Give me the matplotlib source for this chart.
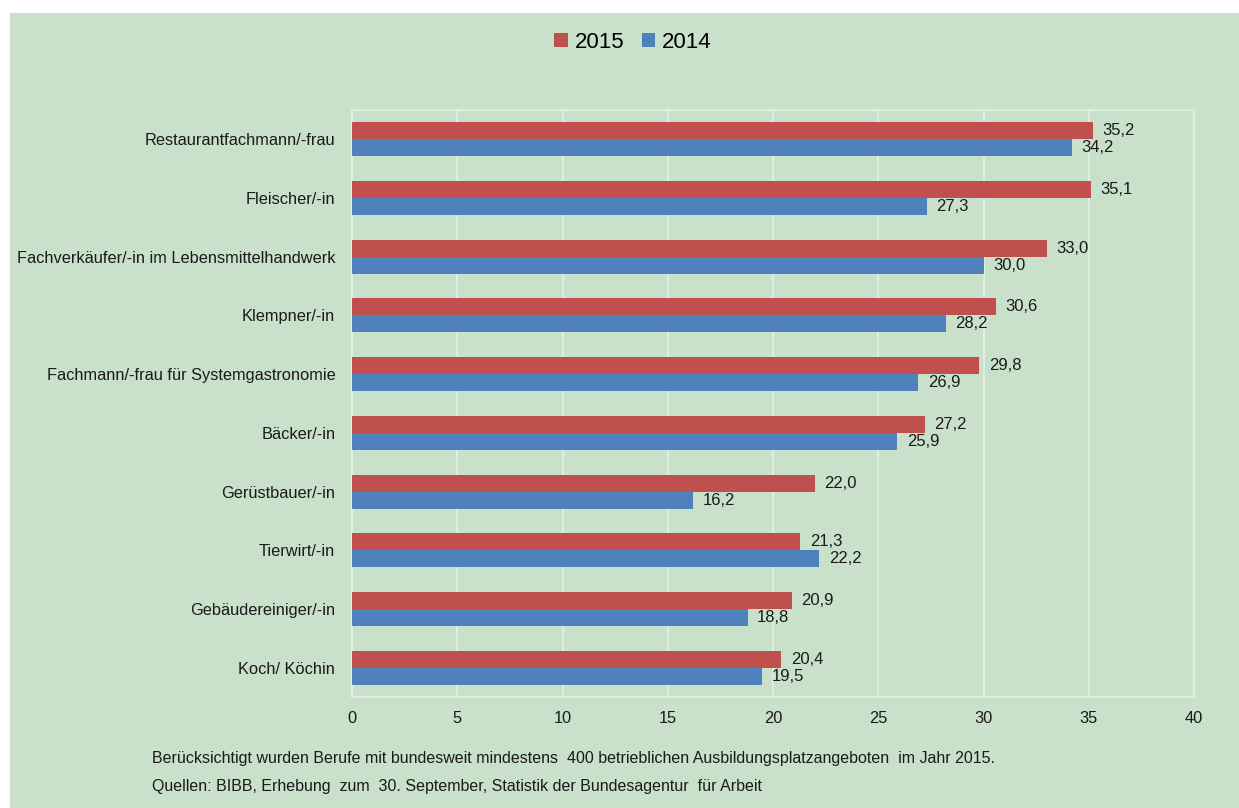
import numpy as np
import matplotlib.pyplot as plt
from matplotlib.patches import Rectangle

plt.rcParams['font.family'] = ['Liberation Sans', 'DejaVu Sans']

# data, top to bottom as in the chart
berufe = ["Restaurantfachmann/-frau", "Fleischer/-in",
          "Fachverkäufer/-in im Lebensmittelhandwerk", "Klempner/-in",
          "Fachmann/-frau für Systemgastronomie", "Bäcker/-in",
          "Gerüstbauer/-in", "Tierwirt/-in", "Gebäudereiniger/-in",
          "Koch/ Köchin"]
werte_2015 = [35.2, 35.1, 33.0, 30.6, 29.8, 27.2, 22.0, 21.3, 20.9, 20.4]
werte_2014 = [34.2, 27.3, 30.0, 28.2, 26.9, 25.9, 16.2, 22.2, 18.8, 19.5]
x_ticks = [0, 5, 10, 15, 20, 25, 30, 35, 40]

BG = '#c9e0cb'
ROT = '#c0504d'
BLAU = '#4f81bd'
LINIE = '#e6f1e6'
TXT = '#1a1a1a'

fig = plt.figure(figsize=(12.39, 8.08), dpi=100)
fig.patch.set_facecolor('white')
# green panel, white strip on top and left
fig.add_artist(Rectangle((10 / 1239, 0), 1 - 10 / 1239, 1 - 13 / 808,
                         transform=fig.transFigure, facecolor=BG,
                         edgecolor='none', zorder=-10))

ax = fig.add_axes([352 / 1239, 1 - 697 / 808, (1194 - 352) / 1239, (697 - 110) / 808])
ax.set_zorder(1)
ax.set_facecolor(BG)

y = np.arange(len(berufe))
h = 0.29
b15 = ax.barh(y - h / 2, werte_2015, height=h, color=ROT, label='2015', zorder=3)
b14 = ax.barh(y + h / 2, werte_2014, height=h, color=BLAU, label='2014', zorder=3)

for bars in (b15, b14):
    for r in bars:
        v = r.get_width()
        ax.text(v + 0.45, r.get_y() + r.get_height() / 2, f"{v:.1f}".replace('.', ','),
                va='center', ha='left', fontsize=12, color=TXT)

ax.set_ylim(len(berufe) - 0.5, -0.5)
ax.set_xlim(0, 40)
ax.set_xticks(x_ticks)
ax.set_yticks(y)
ax.set_yticklabels(berufe)
ax.tick_params(axis='both', length=0, labelsize=11.8, colors=TXT)
ax.tick_params(axis='x', pad=10)
ax.tick_params(axis='y', pad=12)
ax.grid(axis='x', color=LINIE, linewidth=1.1, zorder=1)
for s in ax.spines.values():
    s.set_color(LINIE)
    s.set_linewidth(1.1)

fig.legend(handles=[b15, b14], loc='center', bbox_to_anchor=(633 / 1239, 1 - 42 / 808),
           ncol=2, frameon=False, fontsize=16, handlelength=0.6, handleheight=0.6,
           handletextpad=0.3, columnspacing=0.8)

fig.text(152 / 1239, 1 - 758 / 808,
         "Berücksichtigt wurden Berufe mit bundesweit mindestens  400 betrieblichen "
         "Ausbildungsplatzangeboten  im Jahr 2015.",
         fontsize=11.5, va='center', ha='left', color=TXT)
fig.text(152 / 1239, 1 - 786 / 808,
         "Quellen: BIBB, Erhebung  zum  30. September, Statistik der Bundesagentur  für Arbeit",
         fontsize=11.5, va='center', ha='left', color=TXT)

fig.savefig('out.png', dpi=100, facecolor=fig.get_facecolor())
